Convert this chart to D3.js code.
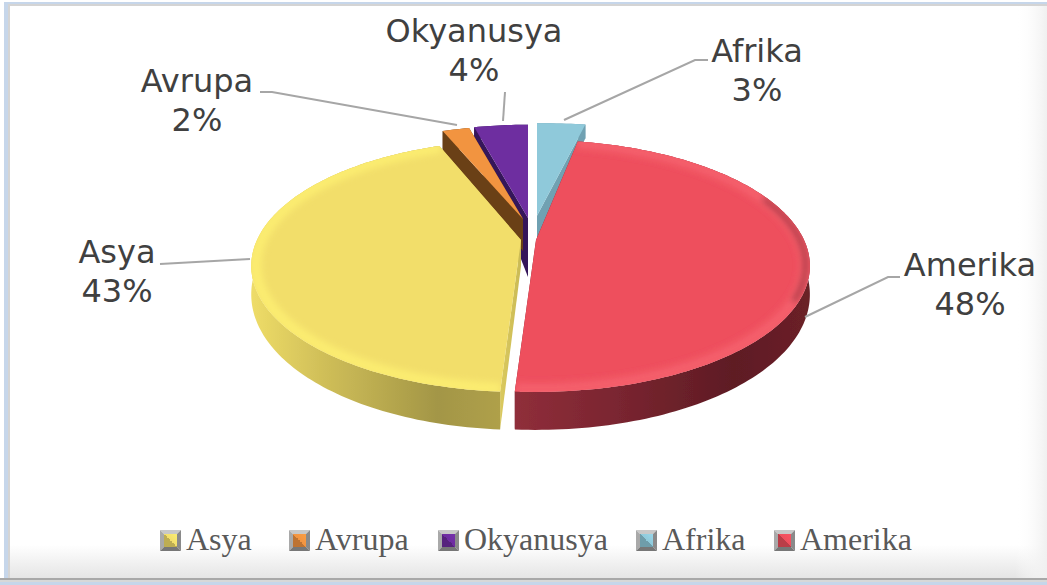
<!DOCTYPE html>
<html><head><meta charset="utf-8">
<script src="https://cdn.jsdelivr.net/npm/d3@7"></script>
<style>html,body{margin:0;padding:0;background:#fff;overflow:hidden}svg{display:block}</style>
</head><body><svg id="c" width="1047" height="585"></svg>
<script>
// DATA
const categories = ["Afrika","Amerika","Asya","Avrupa","Okyanusya"];
const values = [3,48,43,2,4];
const legendOrder = ["Asya","Avrupa","Okyanusya","Afrika","Amerika"];

// STYLE / LAYOUT
const topColor = {Afrika:"#8FC9DA",Amerika:"#EE4F5D",Asya:"#F2DE6B",Avrupa:"#F29441",Okyanusya:"#6E2DA0"};
const wallColor = {Afrika:"#6FA1B2",Amerika:"#7a2530",Asya:"#D8C85E",Avrupa:"#6B4016",Okyanusya:"#35155A"};
const shift = {Afrika:[8,.21,1.2],Amerika:[7,0,1],Asya:[-8,0,.985],Avrupa:[-6,.18,1],Okyanusya:[-1,.19,1]}; // explosion [px, plane, width]
const wallExtra = {Afrika:2,Amerika:0,Asya:0,Avrupa:8,Okyanusya:0};
const labelPos = {Afrika:[757,62],Amerika:[970,276],Asya:[117,263],Avrupa:[197,92],Okyanusya:[474,42]};
const leaders = {Afrika:[[564,120],[695,60],[708,60]],Amerika:[[805,317],[888,277],[900,277]],Asya:[[250,259],[160,264]],
                 Avrupa:[[457,125],[272,92],[260,92]],Okyanusya:[[503,121],[505,92]]};
const legendX = {Asya:160,Avrupa:289,Okyanusya:438,Afrika:636,Amerika:774};
const paintOrder = ["Okyanusya","Avrupa","Afrika","Asya","Amerika"];

const cx=529, cy=240, R=268, tilt=120.6, persp=.206;
const svg=d3.select("#c"), defs=svg.append("defs");

// panel
const lg=(id,x1,y1,x2,y2,stops)=>{const g=defs.append("linearGradient").attr("id",id)
  .attr("gradientUnits","userSpaceOnUse").attr("x1",x1).attr("y1",y1).attr("x2",x2).attr("y2",y2);
  stops.forEach(s=>g.append("stop").attr("offset",s[0]).attr("stop-color",s[1]).attr("stop-opacity",s[2]===undefined?1:s[2]));};
lg("pb",0,545,0,579,[[0,"#fff"],[1,"#e4e4e4"]]);
lg("pr",1015,0,1047,0,[[0,"#fff",0],[1,"#f0f0f0",1]]);
svg.append("rect").attr("width",1047).attr("height",585).attr("fill","#fff");
svg.append("rect").attr("x",4).attr("y",2).attr("width",1043).attr("height",583).attr("fill","#C6D6EA");
svg.append("rect").attr("x",8).attr("y",4).attr("width",1039).attr("height",577).attr("fill","#d4d4d4");
svg.append("rect").attr("x",10).attr("y",6).attr("width",1037).attr("height",573).attr("fill","url(#pb)");
svg.append("rect").attr("x",1015).attr("y",6).attr("width",32).attr("height",573).attr("fill","url(#pr)");
svg.append("rect").attr("x",0).attr("y",578).attr("width",1047).attr("height",2).attr("fill","#a8a8a8");
svg.append("rect").attr("x",0).attr("y",580).attr("width",1047).attr("height",2).attr("fill","#d8d8d8");
svg.append("rect").attr("x",0).attr("y",582).attr("width",1047).attr("height",3).attr("fill","#C6D6EA");

// pie layout
const pie=d3.pie().sort(null).value(d=>d.v).startAngle(0).endAngle(2*Math.PI);
const arcs=pie(categories.map((c,i)=>({c,v:values[i]})));

// projection: a point on the tilted disc, with perspective
const proj=(c,a,r)=>{
  const s=shift[c], X=r*Math.sin(a)*s[2], Z=r*Math.cos(a)+s[1], d=1+persp*Z;
  return [cx+s[0]+R*X/d, cy-tilt*Z/d, Z];
};
const drop=Z=>26-12*Z;
const line=d3.line();
const samples=(a0,a1)=>{const n=Math.max(4,Math.ceil((a1-a0)/.02));return d3.range(n+1).map(i=>a0+(a1-a0)*i/n);};

// wall gradients
lg("wAsya",250,0,500,0,[[0,"#EFDD68"],[.3,"#CFBE58"],[.75,"#A39646"],[1,"#AFA04A"]]);
lg("wAmerika",516,0,806,0,[[0,"#8F2E3A"],[.35,"#7A2530"],[.75,"#5E1C24"],[1,"#6B2028"]]);
lg("wYedge",498,0,522,0,[[0,"#DCCB5F"],[1,"#C9B955"]]);
defs.append("filter").attr("id","bl").append("feGaussianBlur").attr("stdDeviation",3);
defs.append("filter").attr("id","bl2").append("feGaussianBlur").attr("stdDeviation",.6);

const root=svg.append("g").attr("filter","url(#bl2)");
paintOrder.forEach(name=>{
  const a=arcs.find(d=>d.data.c===name), g=root.append("g");
  const below=p=>[p[0],p[1]+drop(p[2])+wallExtra[name]];
  const rim=samples(a.startAngle,a.endAngle).map(t=>proj(name,t,1));
  const apex=proj(name,0,0);
  const apexBottom = name==="Okyanusya" ? [apex[0],277] : below(apex);
  const wallFill = name==="Asya"?"url(#wYedge)":wallColor[name];
  // radial walls
  [rim[0],rim[rim.length-1]].forEach(p=>{
    g.append("path").attr("d",line([apex.slice(0,2),p.slice(0,2),below(p),apexBottom])+"Z").attr("fill",wallFill);
  });
  // outer wall
  const ribbon=rim.map(p=>p.slice(0,2)).concat(rim.map(below).reverse());
  g.append("path").attr("d",line(ribbon)+"Z")
    .attr("fill",(name==="Asya"||name==="Amerika")?`url(#w${name})`:wallColor[name]);
  // top surface
  const top=line([apex.slice(0,2)].concat(rim.map(p=>p.slice(0,2))))+"Z";
  g.append("path").attr("d",top).attr("fill",topColor[name]);
  if(name==="Asya"||name==="Amerika"){
    const id="clip"+name;
    defs.append("clipPath").attr("id",id).append("path").attr("d",top);
    const sh=g.append("g").attr("clip-path",`url(#${id})`).append("g").attr("filter","url(#bl)").attr("fill","none");
    const arcLine=(a0,a1)=>line(samples(a0,a1).map(t=>proj(name,t,.985).slice(0,2)));
    const deg=Math.PI/180;
    if(name==="Asya"){
      sh.append("path").attr("d",arcLine(a.startAngle,a.endAngle)).attr("stroke","#FBEC70").attr("stroke-width",12);
    }else{
      sh.append("path").attr("d",arcLine(a.startAngle,a.endAngle)).attr("stroke","#F45F6C").attr("stroke-width",12);
      sh.append("path").attr("d",arcLine(68*deg,118*deg)).attr("stroke","#8C2B35").attr("stroke-width",4);
    }
  }
});

// leaders + labels
Object.keys(leaders).forEach(k=>svg.append("path").attr("d",line(leaders[k])).attr("fill","none").attr("stroke","#A6A6A6").attr("stroke-width",2));
const txt=svg.append("g").attr("font-family","'DejaVu Sans',Verdana,sans-serif").attr("font-size",32).attr("fill","#404040").attr("text-anchor","middle");
arcs.forEach(a=>{
  const [x,y]=labelPos[a.data.c];
  txt.append("text").attr("x",x).attr("y",y).text(a.data.c);
  txt.append("text").attr("x",x).attr("y",y+39).text(a.data.v+"%");
});

// legend
const lgEl=svg.append("g");
legendOrder.forEach(c=>{
  const x=legendX[c], y=530, s=21, m=lgEl.append("g").attr("transform",`translate(${x},${y})`);
  const id="lm"+c; lg(id,0,s,s,0,[[0,d3.color(topColor[c]).darker(.7)],[.5,d3.color(topColor[c]).darker(.7)],[.5,topColor[c]],[1,d3.color(topColor[c]).brighter(.3)]]);
  m.append("polygon").attr("points",[[0,0],[s,0],[s-5,5],[5,5]].join(" ")).attr("fill","#c8c8c8");
  m.append("polygon").attr("points",[[0,0],[5,5],[5,s-5],[0,s]].join(" ")).attr("fill","#a9a9a9");
  m.append("polygon").attr("points",[[s,0],[s,s],[s-5,s-5],[s-5,5]].join(" ")).attr("fill","#8a8a8a");
  m.append("polygon").attr("points",[[0,s],[s,s],[s-5,s-5],[5,s-5]].join(" ")).attr("fill","#777");
  m.append("rect").attr("x",4).attr("y",4).attr("width",s-8).attr("height",s-8).attr("fill",`url(#${id})`);
  lgEl.append("text").attr("x",x+26).attr("y",550).attr("font-family","'Liberation Serif',serif").attr("font-size",32).attr("fill","#595959").text(c);
});
</script></body></html>
